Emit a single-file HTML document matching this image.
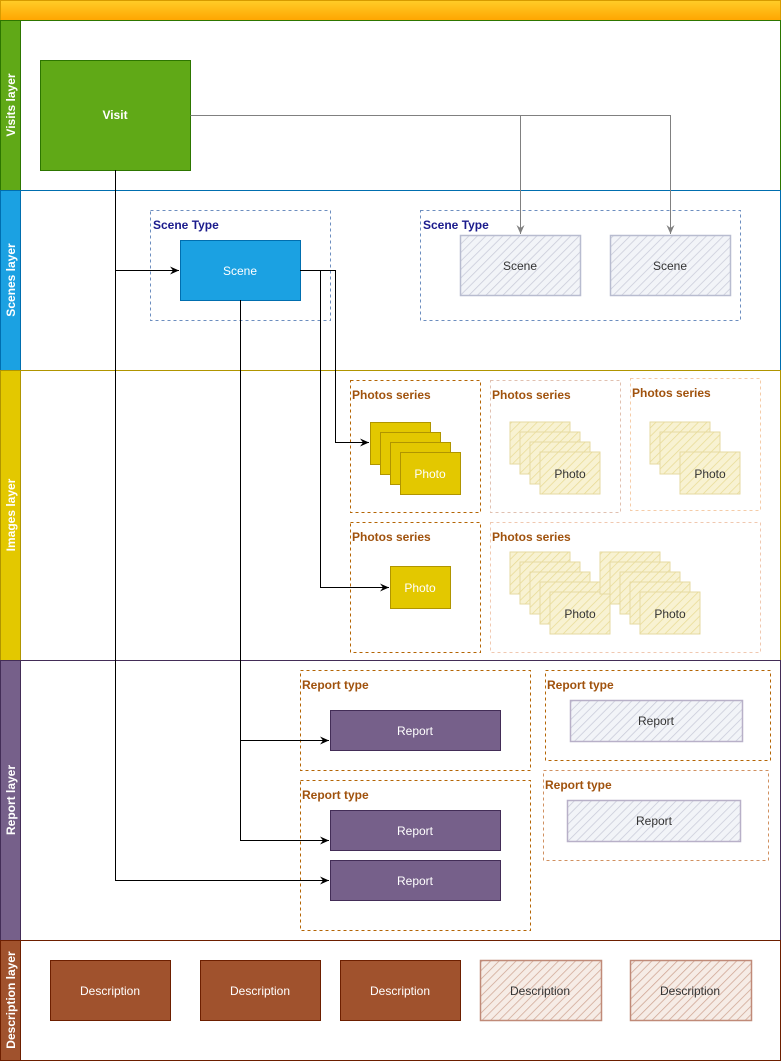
<!DOCTYPE html>
<html><head><meta charset="utf-8"><style>
html,body{margin:0;padding:0;background:#fff;}
svg{display:block;font-family:"Liberation Sans",Arial,sans-serif;}
</style></head><body>
<svg width="782" height="1061" viewBox="0 0 782 1061" xmlns="http://www.w3.org/2000/svg">
<defs>
<linearGradient id="tb" x1="0" y1="0" x2="0" y2="1"><stop offset="0" stop-color="#ffcd28"/><stop offset="1" stop-color="#ffa500"/></linearGradient>
<pattern id="hg" width="6" height="6" patternUnits="userSpaceOnUse" patternTransform="rotate(45)"><rect width="6" height="6" fill="#f2f4f8"/><line x1="0" y1="0" x2="0" y2="6" stroke="#c8cad8" stroke-width="1.5"/></pattern>
<pattern id="hy" width="6" height="6" patternUnits="userSpaceOnUse" patternTransform="rotate(45)"><rect width="6" height="6" fill="#f7f0c8"/><line x1="0" y1="0" x2="0" y2="6" stroke="#e3d27a" stroke-width="1.5"/></pattern>
<pattern id="hb" width="6" height="6" patternUnits="userSpaceOnUse" patternTransform="rotate(45)"><rect width="6" height="6" fill="#f6ece6"/><line x1="0" y1="0" x2="0" y2="6" stroke="#cfa593" stroke-width="1.5"/></pattern>
<marker id="ab" markerWidth="10" markerHeight="8" refX="9" refY="4" orient="auto" markerUnits="userSpaceOnUse"><path d="M0,0 L9,4 L0,8 L3,4 z" fill="#000"/></marker>
<marker id="ag" markerWidth="10" markerHeight="8" refX="9" refY="4" orient="auto" markerUnits="userSpaceOnUse"><path d="M0,0 L9,4 L0,8 L3,4 z" fill="#808080"/></marker>
</defs>
<!-- top bar -->
<rect x="0.5" y="0.5" width="780" height="20" fill="url(#tb)" stroke="#d79b00"/>
<!-- lanes -->
<rect x="0.5" y="20.5" width="780" height="170" fill="#fff" stroke="#2d7600"/>
<rect x="0.5" y="20.5" width="20" height="170" fill="#60a917" stroke="#2d7600"/>
<rect x="0.5" y="190.5" width="780" height="180" fill="#fff" stroke="#006eaf"/>
<rect x="0.5" y="190.5" width="20" height="180" fill="#1ba1e2" stroke="#006eaf"/>
<rect x="0.5" y="370.5" width="780" height="290" fill="#fff" stroke="#b09500"/>
<rect x="0.5" y="370.5" width="20" height="290" fill="#e3c800" stroke="#b09500"/>
<rect x="0.5" y="660.5" width="780" height="280" fill="#fff" stroke="#432d57"/>
<rect x="0.5" y="660.5" width="20" height="280" fill="#76608a" stroke="#432d57"/>
<rect x="0.5" y="940.5" width="780" height="120" fill="#fff" stroke="#6d1f00"/>
<rect x="0.5" y="940.5" width="20" height="120" fill="#a0522d" stroke="#6d1f00"/>
<g fill="#fff" font-weight="bold" font-size="12" text-anchor="middle">
<text transform="translate(15,105) rotate(-90)">Visits layer</text>
<text transform="translate(15,280) rotate(-90)">Scenes layer</text>
<text transform="translate(15,515) rotate(-90)">Images layer</text>
<text transform="translate(15,800) rotate(-90)">Report layer</text>
<text transform="translate(15,1000) rotate(-90)">Description layer</text>
</g>
<!-- visit -->
<rect x="40.5" y="60.5" width="150" height="110" fill="#60a917" stroke="#2d7600"/>
<text x="115" y="119" fill="#fff" font-size="12" font-weight="bold" text-anchor="middle">Visit</text>
<!-- scene type containers -->
<rect x="150.5" y="210.5" width="180" height="110" fill="none" stroke="#6c8ebf" stroke-dasharray="3,3"/>
<text x="153" y="229" fill="#1a1a8c" font-size="12" font-weight="bold">Scene Type</text>
<rect x="420.5" y="210.5" width="320" height="110" fill="none" stroke="#6c8ebf" stroke-dasharray="3,3"/>
<text x="423" y="229" fill="#1a1a8c" font-size="12" font-weight="bold">Scene Type</text>
<rect x="180.5" y="240.5" width="120" height="60" fill="#1ba1e2" stroke="#006eaf"/>
<text x="240" y="275" fill="#fff" font-size="12" text-anchor="middle">Scene</text>
<rect x="460.5" y="235.5" width="120" height="60" fill="url(#hg)" stroke="#b8bcd0" stroke-width="1.5"/>
<text x="520" y="270" fill="#333" font-size="12" text-anchor="middle">Scene</text>
<rect x="610.5" y="235.5" width="120" height="60" fill="url(#hg)" stroke="#b8bcd0" stroke-width="1.5"/>
<text x="670" y="270" fill="#333" font-size="12" text-anchor="middle">Scene</text>
<!-- photos series -->
<g font-size="12" font-weight="bold" fill="#a0520d">
<rect x="350.5" y="380.5" width="130" height="132" fill="none" stroke="#b46504" stroke-dasharray="3,3"/>
<text x="352" y="399">Photos series</text>
<rect x="490.5" y="380.5" width="130" height="132" fill="none" stroke="#e0c0b0" stroke-dasharray="3,3"/>
<text x="492" y="399">Photos series</text>
<rect x="630.5" y="378.5" width="130" height="132" fill="none" stroke="#f5cca8" stroke-dasharray="3,3"/>
<text x="632" y="397">Photos series</text>
<rect x="350.5" y="522.5" width="130" height="130" fill="none" stroke="#b46504" stroke-dasharray="3,3"/>
<text x="352" y="541">Photos series</text>
<rect x="490.5" y="522.5" width="270" height="130" fill="none" stroke="#f0c8b0" stroke-dasharray="3,3"/>
<text x="492" y="541">Photos series</text>
</g>
<g fill="#e3c800" stroke="#b09500">
<rect x="370.5" y="422.5" width="60" height="42"/><rect x="380.5" y="432.5" width="60" height="42"/>
<rect x="390.5" y="442.5" width="60" height="42"/><rect x="400.5" y="452.5" width="60" height="42"/>
<rect x="390.5" y="566.5" width="60" height="42"/>
</g>
<text x="430" y="478" fill="#fff" font-size="12" text-anchor="middle">Photo</text>
<text x="420" y="592" fill="#fff" font-size="12" text-anchor="middle">Photo</text>
<g fill="url(#hy)" stroke="#e0d28a" opacity="0.8">
<rect x="510" y="422" width="60" height="42"/><rect x="520" y="432" width="60" height="42"/><rect x="530" y="442" width="60" height="42"/><rect x="540" y="452" width="60" height="42"/>
<rect x="650" y="422" width="60" height="42"/><rect x="660" y="432" width="60" height="42"/><rect x="680" y="452" width="60" height="42"/>
<rect x="510" y="552" width="60" height="42"/><rect x="520" y="562" width="60" height="42"/><rect x="530" y="572" width="60" height="42"/><rect x="540" y="582" width="60" height="42"/><rect x="550" y="592" width="60" height="42"/>
<rect x="600" y="552" width="60" height="42"/><rect x="610" y="562" width="60" height="42"/><rect x="620" y="572" width="60" height="42"/><rect x="630" y="582" width="60" height="42"/><rect x="640" y="592" width="60" height="42"/>
</g>
<g fill="#333" font-size="12" text-anchor="middle">
<text x="570" y="478">Photo</text><text x="710" y="478">Photo</text>
<text x="580" y="618">Photo</text><text x="670" y="618">Photo</text>
</g>
<!-- reports -->
<g font-size="12" font-weight="bold" fill="#a0520d">
<rect x="300.5" y="670.5" width="230" height="100" fill="none" stroke="#b46504" stroke-dasharray="3,3"/>
<text x="302" y="689">Report type</text>
<rect x="300.5" y="780.5" width="230" height="150" fill="none" stroke="#b46504" stroke-dasharray="3,3"/>
<text x="302" y="799">Report type</text>
<rect x="545.5" y="670.5" width="225" height="90" fill="none" stroke="#b46504" stroke-dasharray="3,3"/>
<text x="547" y="689">Report type</text>
<rect x="543.5" y="770.5" width="225" height="90" fill="none" stroke="#d09060" stroke-dasharray="3,3"/>
<text x="545" y="789">Report type</text>
</g>
<g fill="#76608a" stroke="#432d57">
<rect x="330.5" y="710.5" width="170" height="40"/><rect x="330.5" y="810.5" width="170" height="40"/><rect x="330.5" y="860.5" width="170" height="40"/>
</g>
<g fill="#fff" font-size="12" text-anchor="middle">
<text x="415" y="735">Report</text><text x="415" y="835">Report</text><text x="415" y="885">Report</text>
</g>
<rect x="570.5" y="700.5" width="172" height="41" fill="url(#hg)" stroke="#b8b0c8" stroke-width="1.5"/>
<text x="656" y="725" fill="#333" font-size="12" text-anchor="middle">Report</text>
<rect x="567.5" y="800.5" width="173" height="41" fill="url(#hg)" stroke="#b8b0c8" stroke-width="1.5"/>
<text x="654" y="825" fill="#333" font-size="12" text-anchor="middle">Report</text>
<!-- descriptions -->
<g fill="#a0522d" stroke="#6d1f00">
<rect x="50.5" y="960.5" width="120" height="60"/><rect x="200.5" y="960.5" width="120" height="60"/><rect x="340.5" y="960.5" width="120" height="60"/>
</g>
<rect x="480.5" y="960.5" width="121" height="60" fill="url(#hb)" stroke="#c08a78" stroke-width="1.5"/>
<rect x="630.5" y="960.5" width="121" height="60" fill="url(#hb)" stroke="#c08a78" stroke-width="1.5"/>
<g font-size="12" text-anchor="middle">
<text x="110" y="995" fill="#fff">Description</text><text x="260" y="995" fill="#fff">Description</text><text x="400" y="995" fill="#fff">Description</text>
<text x="540" y="995" fill="#333">Description</text><text x="690" y="995" fill="#333">Description</text>
</g>
<!-- connectors -->
<g fill="none" stroke="#808080">
<path d="M190.5,115.5 H520.5 V234" marker-end="url(#ag)"/>
<path d="M520.5,115.5 H670.5 V234" marker-end="url(#ag)"/>
</g>
<g fill="none" stroke="#000">
<path d="M115.5,170 V880.5 H329" marker-end="url(#ab)"/>
<path d="M115.5,270.5 H179" marker-end="url(#ab)"/>
<path d="M300,270.5 H335.5 V442.5 H369" marker-end="url(#ab)"/>
<path d="M320.5,270.5 V587.5 H389" marker-end="url(#ab)"/>
<path d="M240.5,300 V840.5 H329" marker-end="url(#ab)"/>
<path d="M240.5,740.5 H329" marker-end="url(#ab)"/>
</g>
</svg>
</body></html>
